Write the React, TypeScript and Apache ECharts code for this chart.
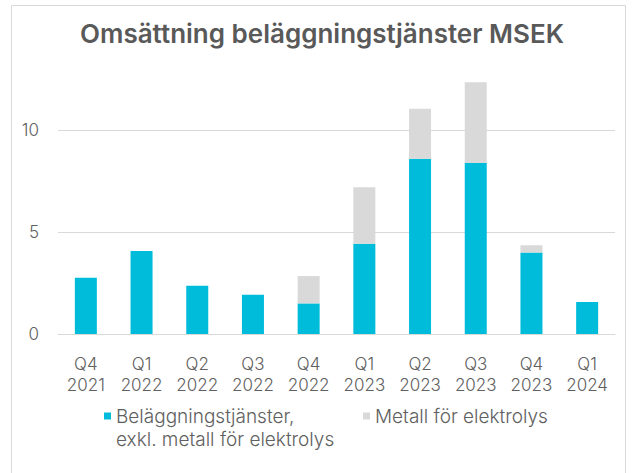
import React, { useEffect, useRef } from "react";
import * as echarts from "echarts";

const categories = [
  "Q4\n2021", "Q1\n2022", "Q2\n2022", "Q3\n2022", "Q4\n2022",
  "Q1\n2023", "Q2\n2023", "Q3\n2023", "Q4\n2023", "Q1\n2024",
];
const coatingName = "Beläggningstjänster,\nexkl. metall för elektrolys";
const metalName = "Metall för elektrolys";
const coatingValues = [2.76, 4.07, 2.37, 1.93, 1.5, 4.43, 8.59, 8.38, 3.99, 1.57];
const metalValues = [0, 0, 0, 0, 1.34, 2.76, 2.45, 3.96, 0.36, 0];
const yTicks = [0, 5, 10];

const FONT = "Inter, 'Noto Sans', sans-serif";
const LABEL = "#606060";
const LINE = "#d9d9d9";

export default function App() {
  const ref = useRef<HTMLDivElement>(null);
  useEffect(() => {
    if (!ref.current) return;
    const chart = echarts.init(ref.current, null, { renderer: "svg" });
    chart.setOption({
      animation: false,
      backgroundColor: "#ffffff",
      title: {
        text: "Omsättning beläggningstjänster MSEK",
        left: 80,
        top: 20,
        padding: 0,
        textStyle: { fontFamily: FONT, fontSize: 26, fontWeight: 600, color: "#595959" },
      },
      graphic: [
        {
          type: "rect",
          shape: { x: 11.5, y: 5.5, width: 614, height: 480 },
          style: { fill: "none", stroke: LINE, lineWidth: 1 },
          silent: true,
        },
      ],
      legend: [
        {
          data: [coatingName],
          left: 104,
          top: 381.5,
          padding: 0,
          icon: "rect",
          itemWidth: 7,
          itemHeight: 7,
          selectedMode: false,
          formatter: (n: string) => "\n" + n,
          textStyle: {
            fontFamily: FONT, fontSize: 19, fontWeight: 300, color: LABEL,
            lineHeight: 23,
          },
        },
        {
          data: [metalName],
          left: 363,
          top: 404.5,
          padding: 0,
          icon: "rect",
          itemWidth: 7,
          itemHeight: 7,
          selectedMode: false,
          textStyle: {
            fontFamily: FONT, fontSize: 19, fontWeight: 300, color: LABEL,
            lineHeight: 23,
          },
        },
      ],
      grid: { left: 58, right: 21, top: 334 - 13 * 20.4, bottom: 139, containLabel: false },
      xAxis: {
        type: "category",
        data: categories,
        axisTick: { show: false },
        axisLine: { lineStyle: { color: LINE, width: 1 } },
        axisLabel: {
          interval: 0, margin: 19, fontFamily: FONT, fontSize: 17, fontWeight: 300,
          color: LABEL, lineHeight: 21,
        },
      },
      yAxis: {
        type: "value",
        min: yTicks[0],
        max: 13,
        interval: yTicks[1] - yTicks[0],
        axisLine: { show: false },
        axisTick: { show: false },
        splitLine: { show: true, showMaxLine: false, lineStyle: { color: LINE, width: 1 } },
        axisLabel: {
          margin: 19, fontFamily: FONT, fontSize: 17, fontWeight: 300, color: LABEL,
          showMaxLabel: false,
        },
      },
      series: [
        {
          name: coatingName,
          type: "bar",
          stack: "total",
          data: coatingValues,
          barWidth: 22,
          itemStyle: { color: "#00BCDB" },
        },
        {
          name: metalName,
          type: "bar",
          stack: "total",
          data: metalValues.map((v) => (v === 0 ? null : v)),
          barWidth: 22,
          itemStyle: { color: "#D9D9D9" },
        },
      ],
    });
    return () => chart.dispose();
  }, []);
  return (
    <div
      ref={ref}
      style={{ position: "fixed", left: 0, top: 0, width: 636, height: 473 }}
    />
  );
}
